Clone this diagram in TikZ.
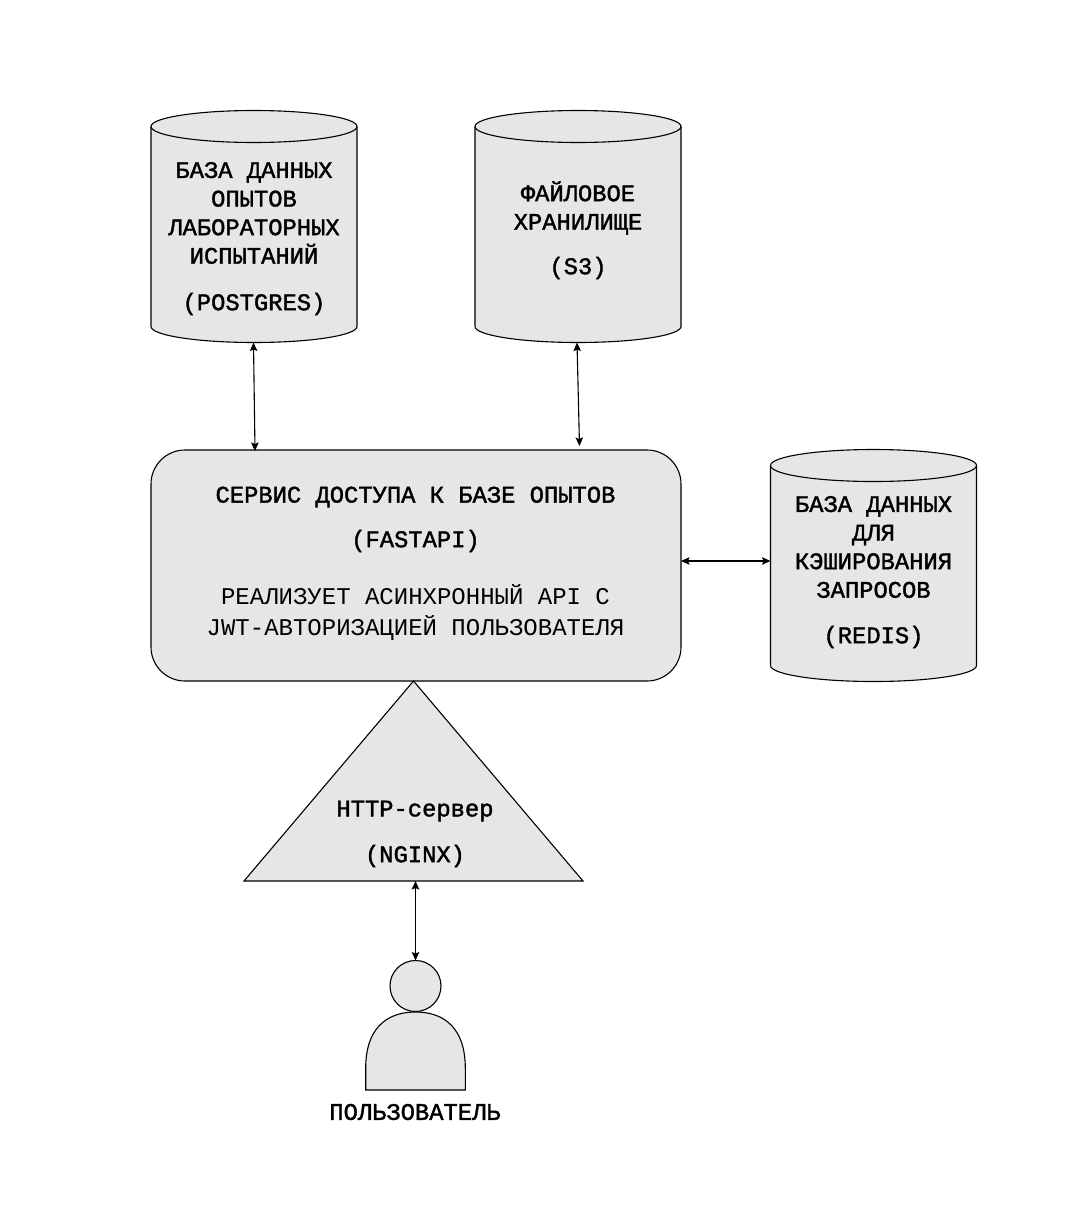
\documentclass[tikz,border=0pt]{standalone}
\usepackage{fontspec}
\usetikzlibrary{arrows.meta}
\newfontfamily\titlefont[FakeBold=1.6]{Liberation Mono}
\newfontfamily\thinfont{Liberation Mono}
\definecolor{shapefill}{HTML}{E6E6E6}
\newcommand{\dbdrum}[1]{%
  \draw[shapeline] ([yshift=-16pt]#1.north west)
     arc[x radius=103pt,y radius=16pt,start angle=180,end angle=0]
     -- ([yshift=16pt]#1.south east)
     arc[x radius=103pt,y radius=16pt,start angle=0,end angle=-180]
     -- cycle;
  \draw[shapeline,fill=none] ([yshift=-16pt]#1.north west)
     arc[x radius=103pt,y radius=16pt,start angle=180,end angle=360];
}
\tikzset{
  shapeline/.style={draw=black,line width=1.1pt,fill=shapefill},
  dbcyl/.style={inner sep=0pt,outer sep=0pt,minimum width=206pt,minimum height=232pt},
  twoway/.style={draw=black,line width=1.1pt,{Stealth[length=8.5pt,width=7.5pt,inset=1.5pt]}-{Stealth[length=8.5pt,width=7.5pt,inset=1.5pt]}},
  label title/.style={inner sep=0pt,align=center,font=\titlefont\fontsize{23.8}{28.6}\selectfont},
  label thin/.style={inner sep=0pt,align=center,font=\thinfont\fontsize{24}{31}\selectfont}
}
\begin{document}
\begin{tikzpicture}[x=1pt,y=-1pt]
\useasboundingbox (0,0) rectangle (1091,1210);
\fill[white] (0,0) rectangle (1091,1210);
% stores
\node[dbcyl] (pg) at (254,226.5) {};
\node[dbcyl] (s3) at (578,226.5) {};
\node[dbcyl] (rd) at (873.5,565.5) {};
\dbdrum{pg}
\dbdrum{s3}
\dbdrum{rd}
% service
\node[shapeline,rounded corners=34pt,minimum width=530pt,minimum height=231pt,inner sep=0pt,outer sep=0pt] (svc) at (416,565.5) {};
% server triangle
\coordinate (apex) at (413.5,681);
\coordinate (baseL) at (244,881);
\coordinate (baseR) at (583,881);
\draw[shapeline,line join=miter] (apex) -- (baseR) -- (baseL) -- cycle;
% person
\node[shapeline,circle,minimum size=51pt,inner sep=0pt,outer sep=0pt] (head) at (415.5,986) {};
\draw[shapeline] (365.7,1090) -- (365.7,1068) .. controls (365.7,1030) and (385,1012) .. (415.5,1012)
  .. controls (446,1012) and (465.3,1030) .. (465.3,1068) -- (465.3,1090) -- cycle;
% labels
\node[label title] (pgtext) at (254,213) {БАЗА ДАННЫХ\\ОПЫТОВ\\ЛАБОРАТОРНЫХ\\ИСПЫТАНИЙ};
\node[label title] (pgname) at (254,304) {(POSTGRES)};
\node[label title] (s3text) at (578,208) {ФАЙЛОВОЕ\\ХРАНИЛИЩЕ};
\node[label title] (s3name) at (578,268) {(S3)};
\node[label title] (rdtext) at (873.5,547) {БАЗА ДАННЫХ\\ДЛЯ\\КЭШИРОВАНИЯ\\ЗАПРОСОВ};
\node[label title] (rdname) at (873.5,637) {(REDIS)};
\node[label title] (svctext) at (415.5,497) {СЕРВИС ДОСТУПА К БАЗЕ ОПЫТОВ};
\node[label title] (svcname) at (415.5,541) {(FASTAPI)};
\node[label thin] (svcnote) at (415.5,612) {РЕАЛИЗУЕТ АСИНХРОННЫЙ API С\\JWT-АВТОРИЗАЦИЕЙ ПОЛЬЗОВАТЕЛЯ};
\node[label title] (srvtext) at (415,811) {HTTP-сервер};
\node[label title] (srvname) at (415,856) {(NGINX)};
\node[label title] (usertext) at (415,1112) {ПОЛЬЗОВАТЕЛЬ};
% connectors
\coordinate (pgB) at (253.5,342.5);
\coordinate (svcA) at (255,451);
\coordinate (s3B) at (577,342.5);
\coordinate (svcB) at (579.5,446);
\coordinate (baseM) at (415.5,881);
\draw[twoway] (pgB) -- (svcA);
\draw[twoway] (s3B) -- (svcB);
\draw[twoway] (svc.east |- 0,561) -- (rd.west |- 0,561);
\draw[twoway] (baseM) -- (head.north);
\end{tikzpicture}
\end{document}
